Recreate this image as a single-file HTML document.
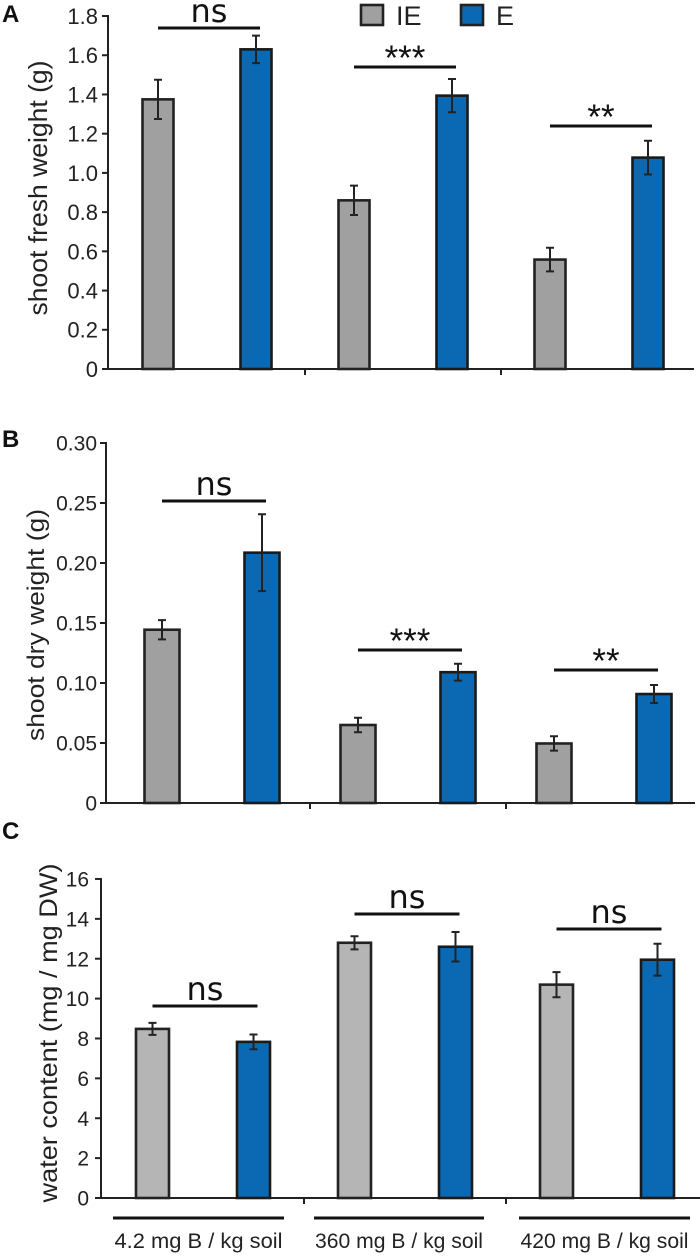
<!DOCTYPE html>
<html><head><meta charset="utf-8"><style>
html,body{margin:0;padding:0;background:#fff;width:700px;height:1257px;overflow:hidden}
svg{display:block;font-family:"Liberation Sans",sans-serif}
</style></head><body>
<svg id="chart" width="700" height="1257" viewBox="0 0 700 1257" xmlns="http://www.w3.org/2000/svg"></svg>
<script>
const groups = ["4.2 mg B / kg soil", "360 mg B / kg soil", "420 mg B / kg soil"];
const series = ["IE", "E"];
const freshIE = [1.375, 0.86, 0.558];
const freshIEErr = [0.1, 0.075, 0.06];
const freshE = [1.63, 1.394, 1.078];
const freshEErr = [0.07, 0.085, 0.086];
const freshTicks = ["0", "0.2", "0.4", "0.6", "0.8", "1.0", "1.2", "1.4", "1.6", "1.8"];
const freshSig = ["ns", "***", "**"];
const dryIE = [0.1444, 0.065, 0.0496];
const dryIEErr = [0.008, 0.006, 0.006];
const dryE = [0.2086, 0.109, 0.0908];
const dryEErr = [0.032, 0.007, 0.0075];
const dryTicks = ["0", "0.05", "0.10", "0.15", "0.20", "0.25", "0.30"];
const drySig = ["ns", "***", "**"];
const waterIE = [8.48, 12.8, 10.7];
const waterIEErr = [0.3, 0.33, 0.63];
const waterE = [7.83, 12.6, 11.95];
const waterEErr = [0.37, 0.74, 0.8];
const waterTicks = ["0", "2", "4", "6", "8", "10", "12", "14", "16"];
const waterSig = ["ns", "ns", "ns"];

const NS = "http://www.w3.org/2000/svg";
const svg = document.getElementById("chart");
function mk(tag, attrs, parent) {
  const e = document.createElementNS(NS, tag);
  for (const k in attrs) e.setAttribute(k, attrs[k]);
  (parent || svg).appendChild(e);
  return e;
}

function panel(cfg) {
  const g = mk("g", {});
  
  
  const y = v => cfg.zero - v * cfg.ppu;
  const xIE = i => cfg.x0 + i * cfg.band + cfg.offIE;
  const xE = i => cfg.x0 + i * cfg.band + cfg.offE;
  const L = mk("text", {x: 2, y: cfg.letterY, "font-size": 24, "font-weight": "bold", fill: "#111"}, g);
  L.textContent = cfg.letter;
  
  
  const topV = parseFloat(cfg.ticks[cfg.ticks.length - 1]);
  const ax = mk("line", {x1: cfg.x0, y1: y(topV) - 1, x2: cfg.x0, y2: cfg.zero, stroke: "#222", "stroke-width": 2}, g);
  
  
  cfg.ticks.forEach(t => {
    const v = parseFloat(t);
    mk("line", {x1: cfg.x0 - 6, y1: y(v), x2: cfg.x0, y2: y(v), stroke: "#222", "stroke-width": 2}, g);
    const tl = mk("text", {x: cfg.labelRight, y: y(v) + cfg.tickFs * 0.36, "font-size": cfg.tickFs, "text-anchor": "end", fill: "#222"}, g);
    tl.textContent = t;
    
    
  });
  const xa = mk("line", {x1: cfg.x0, y1: cfg.zero, x2: cfg.xEnd, y2: cfg.zero, stroke: "#222", "stroke-width": 2}, g);
  
  
  for (let i = 0; i < groups.length - 1; i++) {
    const tx = (xE(i) + xIE(i + 1)) / 2;
    mk("line", {x1: tx, y1: cfg.zero, x2: tx, y2: cfg.zero + 6, stroke: "#222", "stroke-width": 2}, g);
  }
  const yt = mk("text", {x: 0, y: 0, "font-size": cfg.titleFs, "text-anchor": "middle", fill: "#222",
    textLength: cfg.titleLen, lengthAdjust: "spacingAndGlyphs",
    transform: `translate(${cfg.titleX},${cfg.titleY}) rotate(-90)`}, g);
  yt.textContent = cfg.title;
  
  
  const drawBar = (cx, v, err, fill, stroke, nm) => {
    const r = mk("rect", {x: cx - cfg.bw / 2, y: y(v), width: cfg.bw, height: cfg.zero - y(v), fill: fill, stroke: stroke, "stroke-width": 2.6}, g);
    
    
    const e = mk("path", {d: `M${cx},${y(v + err)}V${y(v - err)}M${cx - 4},${y(v + err)}H${cx + 4}M${cx - 4},${y(v - err)}H${cx + 4}`, stroke: "#222", "stroke-width": 2, fill: "none"}, g);
    
    
  };
  groups.forEach((gn, i) => {
    drawBar(xIE(i), cfg.ie[i], cfg.ieErr[i], cfg.grayFill, "#222", "bar-ie-" + (i + 1));
    drawBar(xE(i), cfg.e[i], cfg.eErr[i], "#0b69b4", "#1a1a1a", "bar-e-" + (i + 1));
    const ly = cfg.sigY[i];
    const sl = mk("line", {x1: xIE(i), y1: ly, x2: xE(i) + 4, y2: ly, stroke: "#111", "stroke-width": 3}, g);
    
    
    const s = cfg.sig[i];
    const st = mk("text", {x: (xIE(i) + xE(i) + 4) / 2, y: s === "ns" ? ly - 6 : ly + 3, "font-size": s === "ns" ? 32 : 35, "text-anchor": "middle", fill: "#111", "font-family": s === "ns" ? "DejaVu Sans, sans-serif" : "Liberation Sans, sans-serif"}, g);
    st.textContent = s;
    
    
  });
}

panel({name: "panel-a-fresh-weight", letter: "A", letterY: 22, x0: 108, zero: 369, ppu: 196.1, band: 196, offIE: 50, offE: 148, bw: 31, xEnd: 694,
  ie: freshIE, ieErr: freshIEErr, e: freshE, eErr: freshEErr, ticks: freshTicks, sig: freshSig, sigY: [28, 67, 126],
  tickFs: 22, labelRight: 98, title: "shoot fresh weight (g)", titleFs: 26, titleLen: 255, titleX: 47, titleY: 188, grayFill: "#a0a0a0"});
panel({name: "panel-b-dry-weight", letter: "B", letterY: 447, x0: 106, zero: 803, ppu: 1200, band: 196, offIE: 56, offE: 156, bw: 35, xEnd: 695,
  ie: dryIE, ieErr: dryIEErr, e: dryE, eErr: dryEErr, ticks: dryTicks, sig: drySig, sigY: [501, 650, 670],
  tickFs: 21, labelRight: 97, title: "shoot dry weight (g)", titleFs: 24, titleLen: 232, titleX: 44, titleY: 625, grayFill: "#a0a0a0"});
panel({name: "panel-c-water-content", letter: "C", letterY: 839, x0: 101, zero: 1198, ppu: 19.94, band: 202, offIE: 51.5, offE: 152.5, bw: 33, xEnd: 700,
  ie: waterIE, ieErr: waterIEErr, e: waterE, eErr: waterEErr, ticks: waterTicks, sig: waterSig, sigY: [1006, 914, 929],
  tickFs: 21, labelRight: 89, title: "water content (mg / mg DW)", titleFs: 25, titleLen: 339, titleX: 57, titleY: 1033, grayFill: "#b5b5b5"});

const gStarts = [113, 314, 519];
const gEnds = [284, 484, 690];
groups.forEach((gn, i) => {
  const l = mk("line", {x1: gStarts[i], y1: 1218, x2: gEnds[i], y2: 1218, stroke: "#111", "stroke-width": 3});
  
  
  const t = mk("text", {x: (gStarts[i] + gEnds[i]) / 2, y: 1248, "font-size": 21, "text-anchor": "middle", fill: "#222", textLength: 168, lengthAdjust: "spacingAndGlyphs"});
  t.textContent = gn;
  
  
});

const lg = mk("g", {});


const legX = [361, 461];
const legFill = ["#a0a0a0", "#0b69b4"];
series.forEach((s, i) => {
  const r = mk("rect", {x: legX[i], y: 5, width: 22, height: 20, fill: legFill[i], stroke: "#222", "stroke-width": 2.6}, lg);
  
  
  const t = mk("text", {x: legX[i] + 35, y: 25, "font-size": 27, fill: "#222"}, lg);
  t.textContent = s;
  
  
});
</script>
</body></html>
